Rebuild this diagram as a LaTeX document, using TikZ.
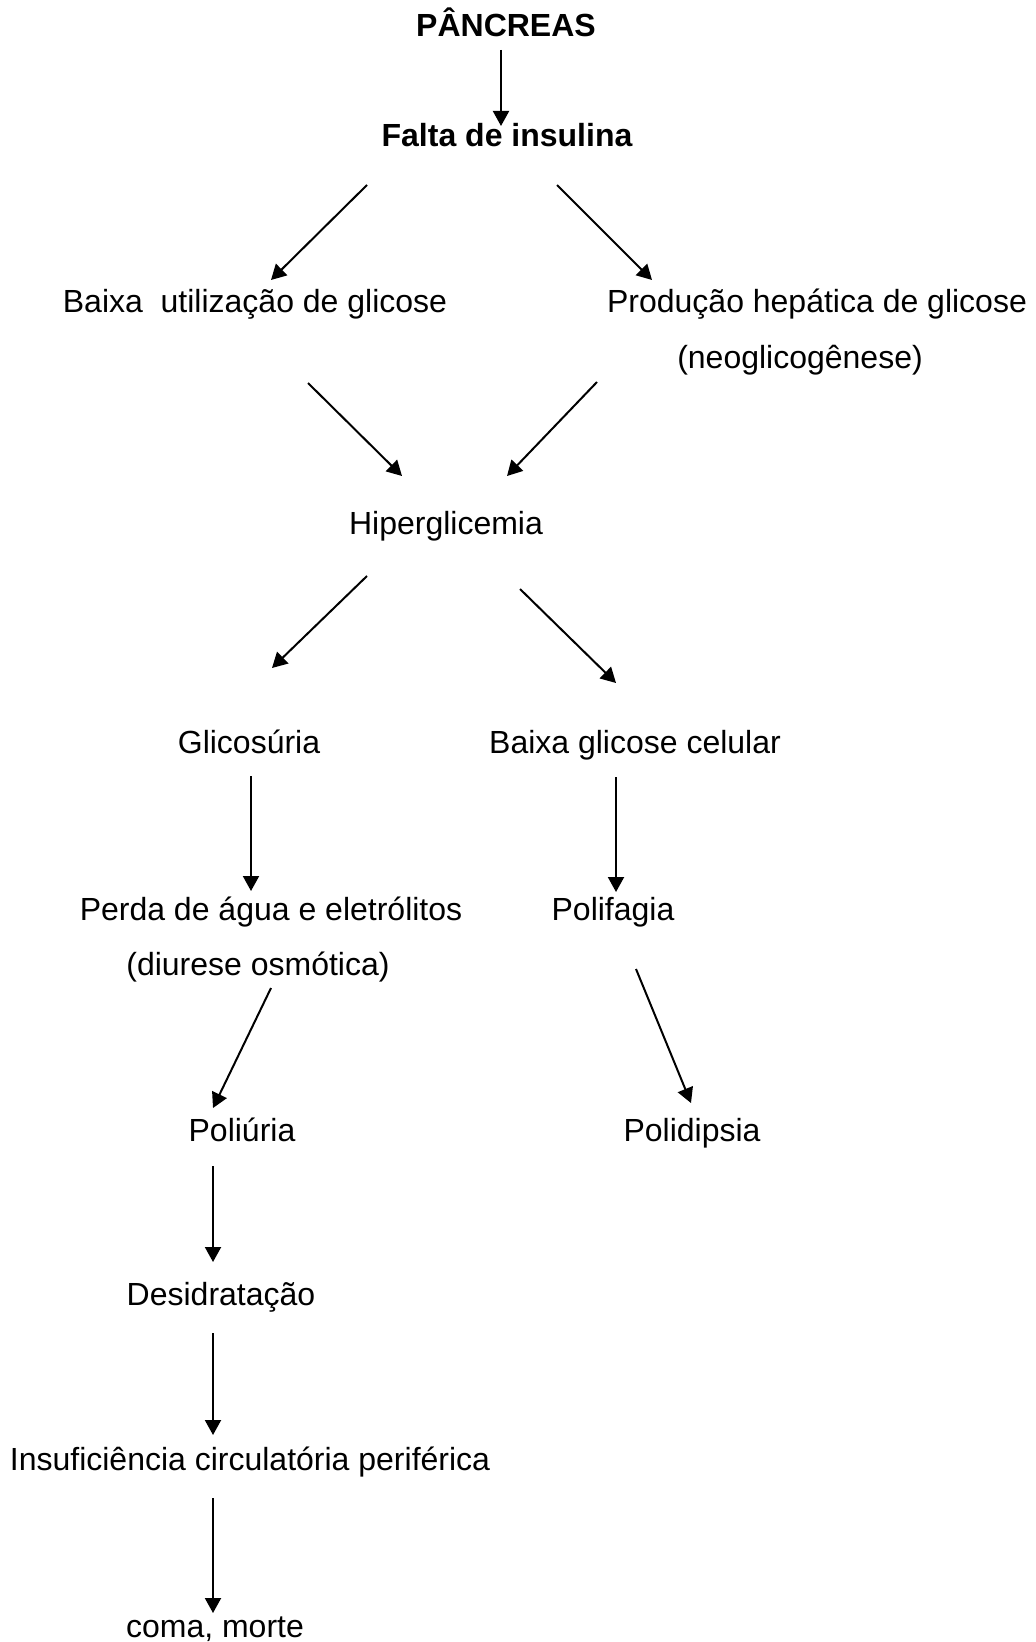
\documentclass[tikz,border=0pt]{standalone}
\usepackage{fontspec}
\setmainfont{Liberation Sans}
\usetikzlibrary{positioning,arrows.meta}

\begin{document}
\begin{tikzpicture}[
x=0.5pt,y=-0.5pt,
texto/.style={
  anchor=base,
  inner sep=0pt,
  font=\fontsize{16}{19}\selectfont},
titulo/.style={
  texto,
  font=\fontsize{16}{19}\selectfont\bfseries},
seta/.style={
  -{Triangle[length=7.5pt,width=8pt]},
  line width=1pt}
]
\useasboundingbox (0,0) rectangle (1036,1642);
\node[titulo] (pan) at (506,37) {PÂNCREAS};
\node[titulo] (fal) at (507,147) {Falta de insulina};
\node[texto] (bai) at (255,313) {Baixa\ \ utilização de glicose};
\node[texto] (pro) at (817,313) {Produção hepática de glicose};
\node[texto] (neo) at (800,369) {(neoglicogênese)};
\node[texto] (hip) at (446,534) {Hiperglicemia};
\node[texto] (gli) at (249,753) {Glicosúria};
\node[texto] (bgc) at (635,753) {Baixa glicose celular};
\node[texto] (per) at (271,920) {Perda de água e eletrólitos};
\node[texto] (diu) at (258,975) {(diurese osmótica)};
\node[texto] (pfa) at (613,920) {Polifagia};
\node[texto] (pur) at (242,1141) {Poliúria};
\node[texto] (pdi) at (692,1141) {Polidipsia};
\node[texto] (des) at (221,1305) {Desidratação};
\node[texto] (ins) at (250,1470) {Insuficiência circulatória periférica};
\node[texto] (com) at (215,1637) {coma, morte};
% pontas das setas
\coordinate (s1) at (501,50);   \coordinate (e1) at (501,126);
\coordinate (s2) at (367,185);  \coordinate (e2) at (271,280);
\coordinate (s3) at (557,185);  \coordinate (e3) at (652,280);
\coordinate (s4) at (308,383);  \coordinate (e4) at (402,476);
\coordinate (s5) at (597,382);  \coordinate (e5) at (507,476);
\coordinate (s6) at (367,576);  \coordinate (e6) at (272,668);
\coordinate (s7) at (520,589);  \coordinate (e7) at (616,683);
\coordinate (s8) at (251,776);  \coordinate (e8) at (251,891);
\coordinate (s9) at (616,777);  \coordinate (e9) at (616,892);
\coordinate (s10) at (271,988); \coordinate (e10) at (213,1108);
\coordinate (s11) at (636,969); \coordinate (e11) at (691,1103);
\coordinate (s12) at (213,1166); \coordinate (e12) at (213,1262);
\coordinate (s13) at (213,1333); \coordinate (e13) at (213,1435);
\coordinate (s14) at (213,1498); \coordinate (e14) at (213,1613);
\foreach \n in {1,...,14}
  \draw[seta] (s\n) -- (e\n);
\end{tikzpicture}
\end{document}
